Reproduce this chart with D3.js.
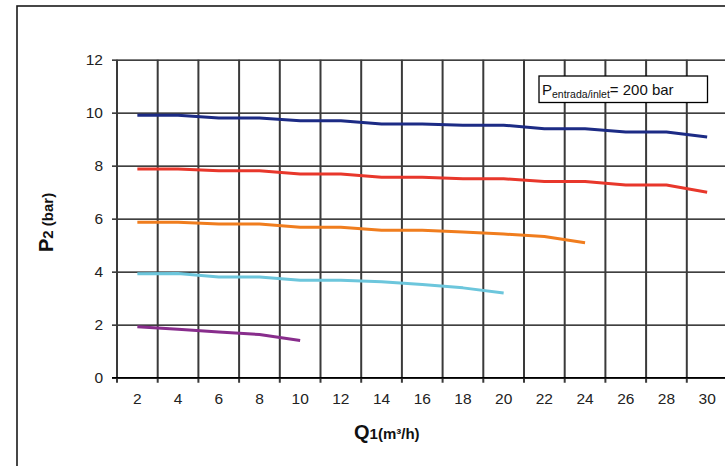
<!DOCTYPE html>
<html>
<head>
<meta charset="utf-8">
<script src="https://cdn.jsdelivr.net/npm/d3@7"></script>
<style>
  html, body { margin: 0; padding: 0; background: #fff; }
  svg { display: block; font-family: "Liberation Sans", Arial, sans-serif; }
</style>
</head>
<body>
<svg id="chart" width="725" height="466"></svg>
<script>
// Outlet pressure P2 vs flow Q1, one curve per regulator setting
const flows = [2, 4, 6, 8, 10, 12, 14, 16, 18, 20, 22, 24, 26, 28, 30];
const yTicks = [0, 2, 4, 6, 8, 10, 12];

const seriesP10 = [9.9, 9.9, 9.8, 9.8, 9.7, 9.7, 9.57, 9.57, 9.53, 9.53, 9.39, 9.39, 9.27, 9.27, 9.08];
const seriesP8  = [7.88, 7.88, 7.81, 7.81, 7.69, 7.69, 7.56, 7.56, 7.51, 7.51, 7.4, 7.4, 7.27, 7.27, 7.0];
const seriesP6  = [5.87, 5.87, 5.8, 5.8, 5.68, 5.68, 5.56, 5.56, 5.5, 5.42, 5.33, 5.09];
const seriesP4  = [3.92, 3.93, 3.8, 3.8, 3.68, 3.68, 3.62, 3.52, 3.39, 3.2];
const seriesP2  = [1.92, 1.83, 1.72, 1.63, 1.4];

const seriesColors = ["#1c2b85", "#e8372b", "#f07d1e", "#6cc6dc", "#882d8c"];
const allSeries = [seriesP10, seriesP8, seriesP6, seriesP4, seriesP2];

const svg = d3.select("#chart");

// outer frame
svg.append("rect")
  .attr("x", 17).attr("y", 6)
  .attr("width", 800).attr("height", 600)
  .attr("fill", "none")
  .attr("stroke", "#1a1a1a")
  .attr("stroke-width", 1.6);

const plot = { left: 117, right: 727.5, top: 59.7, bottom: 377.7 };

const x = d3.scaleBand().domain(flows).range([plot.left, plot.right]).padding(0);
const y = d3.scaleLinear().domain([0, 12]).range([plot.bottom, plot.top]);

// horizontal gridlines + y axis labels
const yAxis = svg.append("g")
  .attr("transform", `translate(${plot.left},0)`)
  .call(d3.axisLeft(y).tickValues(yTicks).tickSize(-(plot.right - plot.left)).tickSizeOuter(0).tickPadding(14));
yAxis.select(".domain").remove();
yAxis.selectAll(".tick line")
  .attr("x1", -5)
  .attr("stroke", "#000")
  .attr("stroke-width", 1.3);
yAxis.selectAll(".tick text")
  .attr("font-size", 15.5)
  .attr("fill", "#222")
  .attr("font-family", "Liberation Sans, Arial, sans-serif");

// vertical gridlines at the category boundaries (with tick stubs below the axis)
svg.append("g").selectAll("line")
  .data(flows)
  .join("line")
  .attr("x1", d => x(d)).attr("x2", d => x(d))
  .attr("y1", plot.top).attr("y2", plot.bottom + 5)
  .attr("stroke", "#3a3a3a")
  .attr("stroke-width", 2);

// x axis line along 0
svg.append("line")
  .attr("x1", plot.left - 5).attr("x2", 725)
  .attr("y1", y(0)).attr("y2", y(0))
  .attr("stroke", "#000").attr("stroke-width", 1.5);

// x labels, centred in each category band
const xAxis = svg.append("g")
  .attr("transform", `translate(0,${plot.bottom})`)
  .call(d3.axisBottom(x).tickSize(0).tickPadding(15));
xAxis.select(".domain").remove();
xAxis.selectAll(".tick text")
  .attr("font-size", 15.5)
  .attr("fill", "#222")
  .attr("font-family", "Liberation Sans, Arial, sans-serif");

// curves
const line = d3.line()
  .x((d, i) => x(flows[i]) + x.bandwidth() / 2)
  .y(d => y(d));

svg.append("g").selectAll("path")
  .data(allSeries)
  .join("path")
  .attr("d", d => line(d))
  .attr("fill", "none")
  .attr("stroke", (d, i) => seriesColors[i])
  .attr("stroke-width", 3)
  .attr("stroke-linejoin", "round");

// inlet pressure note
svg.append("rect")
  .attr("x", 539).attr("y", 76)
  .attr("width", 168.5).attr("height", 26.5)
  .attr("fill", "#fff")
  .attr("stroke", "#000")
  .attr("stroke-width", 1.3);
const note = svg.append("text")
  .attr("x", 542).attr("y", 95)
  .attr("font-size", 15)
  .attr("fill", "#111");
note.append("tspan").text("P");
note.append("tspan").attr("font-size", 10.5).attr("dy", 3).text("entrada/inlet");
note.append("tspan").attr("dy", -3).text("= 200 bar");

// axis titles
const xTitle = svg.append("text")
  .attr("x", 354).attr("y", 439)
  .attr("font-weight", "bold")
  .attr("fill", "#111");
xTitle.append("tspan").attr("font-size", 20).text("Q");
xTitle.append("tspan").attr("font-size", 15).text("1(m³/h)");

const yTitle = svg.append("text")
  .attr("transform", "translate(53,252) rotate(-90)")
  .attr("font-weight", "bold")
  .attr("fill", "#111");
yTitle.append("tspan").attr("font-size", 20).text("P");
yTitle.append("tspan").attr("font-size", 15).text("2 (bar)");
</script>
</body>
</html>
